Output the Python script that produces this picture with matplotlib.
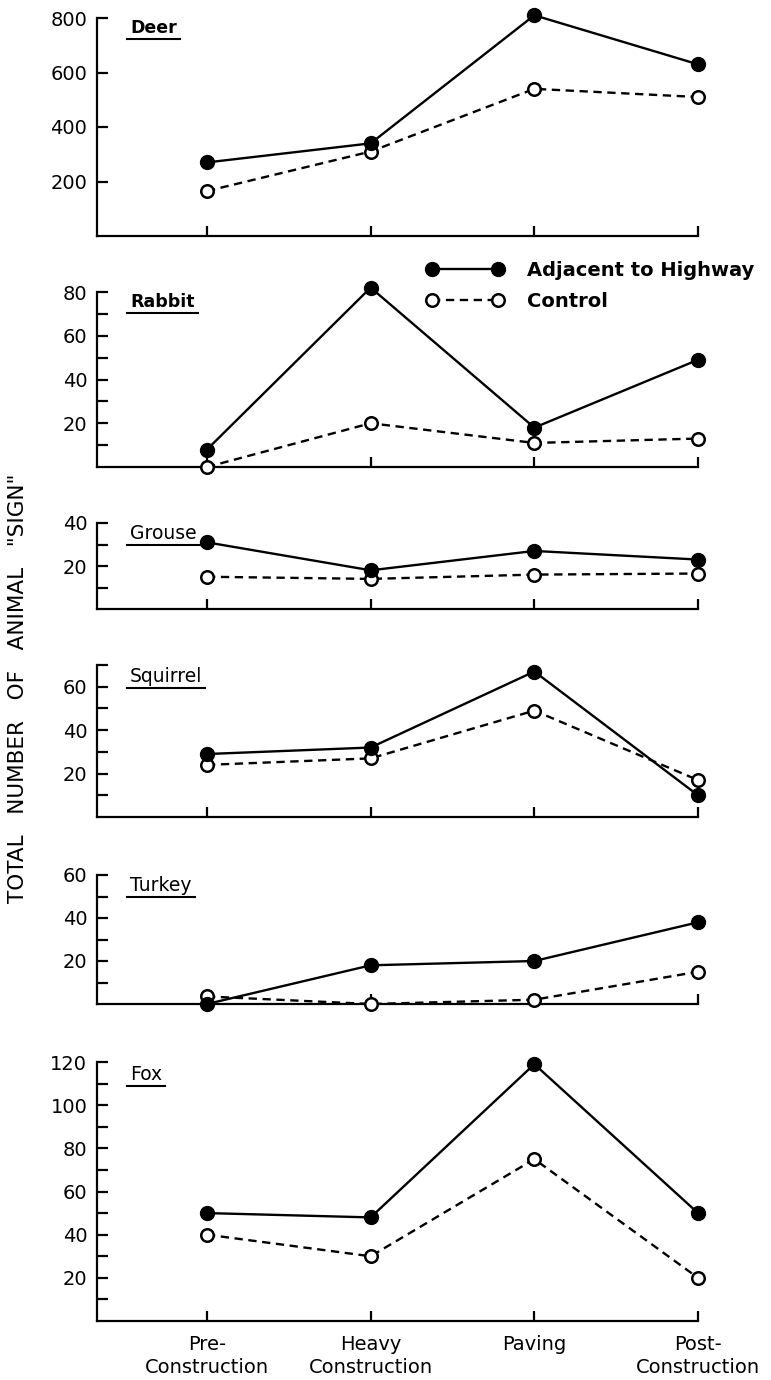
import matplotlib
matplotlib.use("Agg")
import matplotlib.pyplot as plt
from matplotlib.lines import Line2D

plt.rcParams['font.family'] = 'DejaVu Sans'
plt.rcParams['lines.scale_dashes'] = False

# Data
stages = ['Pre-\nConstruction', 'Heavy\nConstruction', 'Paving', 'Post-\nConstruction']
animals = ['Deer', 'Rabbit', 'Grouse', 'Squirrel', 'Turkey', 'Fox']

deer_adj = [270, 340, 810, 630]
deer_ctl = [165, 310, 540, 510]
rabbit_adj = [8, 82, 18, 49]
rabbit_ctl = [0, 20, 11, 13]
grouse_adj = [31, 18, 27, 23]
grouse_ctl = [15, 14, 16, 16.5]
squirrel_adj = [29, 32, 67, 10]
squirrel_ctl = [24, 27, 49, 17]
turkey_adj = [0, 18, 20, 38]
turkey_ctl = [3.5, 0, 2, 15]
fox_adj = [50, 48, 119, 50]
fox_ctl = [40, 30, 75, 20]

adj = [deer_adj, rabbit_adj, grouse_adj, squirrel_adj, turkey_adj, fox_adj]
ctl = [deer_ctl, rabbit_ctl, grouse_ctl, squirrel_ctl, turkey_ctl, fox_ctl]

ytops = [800, 80, 40, 70, 60, 120]
major = [[200, 400, 600, 800], [20, 40, 60, 80], [20, 40], [20, 40, 60],
         [20, 40, 60], [20, 40, 60, 80, 100, 120]]
minor = [[], [10, 30, 50, 70], [10, 30], [10, 30, 50, 70], [10, 30, 50],
         [10, 30, 50, 70, 90, 110]]

# layout in pixels (top, bottom) of each panel
W, H = 771, 1380
panels = [(18, 236), (292, 467), (523, 609), (665, 817), (875, 1004), (1062, 1321)]
left_px, right_px = 97, 698

fig = plt.figure(figsize=(W / 100, H / 100), dpi=100)
x = list(range(len(stages)))

axes = []
labels = []
for i, (top, bot) in enumerate(panels):
    ax = fig.add_axes([left_px / W, 1 - bot / H, (right_px - left_px) / W, (bot - top) / H])
    ax.plot(x, ctl[i], color='black', lw=1.7, dashes=(6, 4), marker='o', ms=9,
            mfc='white', mec='black', mew=1.8, clip_on=False, zorder=3, label='Control')
    ax.plot(x, adj[i], color='black', lw=1.7, marker='o', ms=10,
            mfc='black', mec='black', clip_on=False, zorder=4, label='Adjacent to Highway')
    ax.set_xlim(-0.672, 3.0)
    ax.set_ylim(0, ytops[i])
    for s in ['top', 'right']:
        ax.spines[s].set_visible(False)
    for s in ['left', 'bottom']:
        ax.spines[s].set_linewidth(1.6)
    ax.set_yticks(major[i])
    ax.set_yticks(minor[i], minor=True)
    ax.tick_params(axis='y', which='both', direction='in', length=8, width=1.6,
                   labelsize=14, pad=7)
    ax.tick_params(axis='x', direction='in', length=7, width=1.6, labelsize=14, pad=10)
    ax.set_xticks(x)
    if i < len(panels) - 1:
        ax.set_xticklabels([])
    else:
        ax.set_xticklabels(stages, linespacing=1.3)
    if i < 2:
        t = ax.text(0.055, 0.995, animals[i], transform=ax.transAxes, va='top', ha='left',
                    fontsize=12.5, fontweight='bold')
    else:
        t = ax.text(0.055, 0.99, animals[i], transform=ax.transAxes, va='top', ha='left',
                    fontsize=13.5)
    labels.append(t)
    axes.append(ax)

# legend
h = axes[1].get_lines()
fig.legend([h[1], h[0]], ['Adjacent to Highway', 'Control'], loc='upper left',
           bbox_to_anchor=(426 / W, 1 - 261 / H), frameon=False, numpoints=2,
           handlelength=4.0, handletextpad=1.2, labelspacing=0.6, borderpad=0,
           borderaxespad=0, prop={'size': 14, 'weight': 'bold'})

fig.text(18 / W, 1 - 688 / H, 'TOTAL   NUMBER   OF   ANIMAL   "SIGN"', rotation=90,
         ha='center', va='center', fontsize=15.5)

# underline the panel names
fig.canvas.draw()
r = fig.canvas.get_renderer()
for t in labels:
    bb = t.get_window_extent(r)
    y = bb.y0 - 2
    fig.add_artist(Line2D([(bb.x0 - 3) / W, (bb.x1 + 3) / W], [y / H, y / H],
                          transform=fig.transFigure, color='black', lw=1.5))

fig.savefig('out.png', dpi=100)
